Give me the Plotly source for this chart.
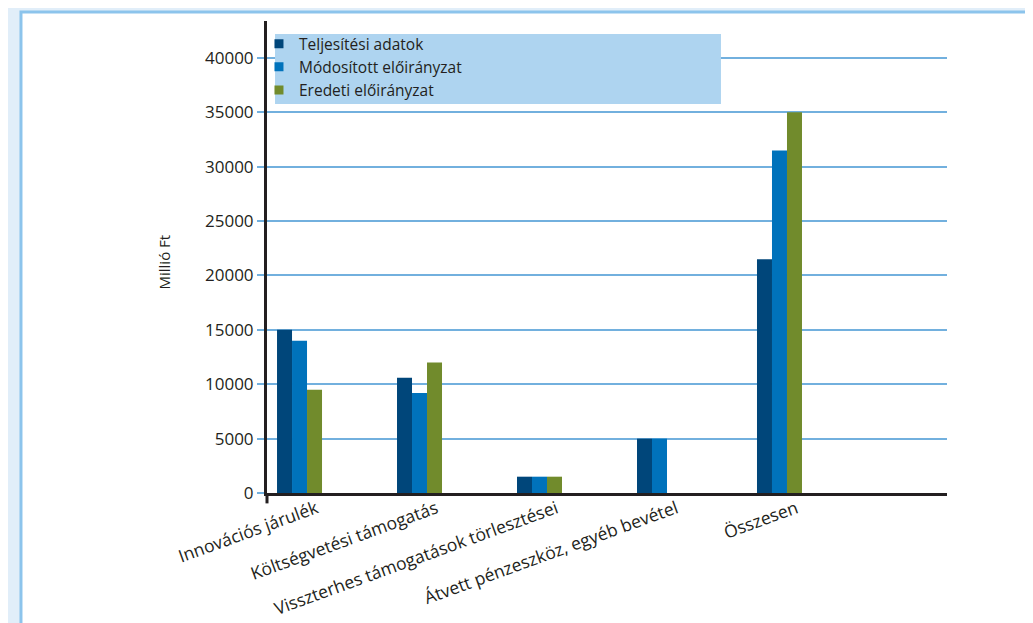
import plotly.graph_objects as go

categories = ["Innovációs járulék", "Költségvetési támogatás",
              "Visszterhes támogatások törlesztései",
              "Átvett pénzeszköz, egyéb bevétel", "Összesen"]
teljesitesi = [15000, 10600, 1500, 5000, 21500]
modositott = [14000, 9200, 1500, 5000, 31500]
eredeti = [9500, 12000, 1500, 0, 35000]
series_names = ["Teljesítési adatok", "Módosított előirányzat", "Eredeti előirányzat"]
colors = ["#00467a", "#0072bb", "#718b2c"]
y_ticks = [0, 5000, 10000, 15000, 20000, 25000, 30000, 35000, 40000]
y_ticktext = ["0", "5000", "10000", "15000", "20000", "25000", "30000", "35000", "40000"]

FONT = "Open Sans"
TXT = "#231f20"
GRID = "#72b0de"

fig = go.Figure()
bar_w = 0.125
offsets = [-0.3275, -0.2025, -0.0775]
for name, vals, col, off in zip(series_names, [teljesitesi, modositott, eredeti], colors, offsets):
    fig.add_trace(go.Bar(x=categories, y=vals, name=name, marker_color=col,
                         marker_line_width=0, width=bar_w, offset=off,
                         showlegend=False))
    fig.add_trace(go.Scatter(x=[None], y=[None], mode="markers", name=name,
                             marker=dict(symbol="square", size=9, color=col)))

fig.update_layout(
    width=1033, height=623,
    barmode="overlay",
    paper_bgcolor="#e1eef9",
    plot_bgcolor="rgba(0,0,0,0)",
    margin=dict(l=259, r=94, t=13, b=138),
    font=dict(family=FONT, color=TXT, size=16),
    showlegend=True,
    legend=dict(x=-0.0118, y=0.987, xanchor="left", yanchor="top",
                bgcolor="rgba(0,0,0,0)", font=dict(size=15.5, color=TXT),
                itemwidth=30, tracegroupgap=0),
    xaxis=dict(type="category", range=[-0.411, 5.256], showgrid=False,
               showline=True, linecolor=TXT, linewidth=3, ticks="",
               tickangle=-20, tickfont=dict(size=17.5, color=TXT),
               ticklabelstandoff=-4, automargin=False),
    yaxis=dict(range=[0, 43400], tickvals=y_ticks, ticktext=y_ticktext,
               showgrid=True, gridcolor=GRID, gridwidth=1.5, showline=True,
               linecolor=TXT, linewidth=3, ticks="outside", ticklen=7,
               tickcolor=GRID, tickwidth=1.5,
               tickfont=dict(size=17, color=TXT), zeroline=False,
               automargin=False),
    shapes=[
        dict(type="rect", xref="paper", yref="paper", x0=-0.3618, x1=1.1176,
             y0=-0.5, y1=1.019, fillcolor="white",
             line=dict(color="#8cc4ec", width=3), layer="below"),
        dict(type="rect", xref="paper", yref="paper", x0=0.0118, x1=0.6676,
             y0=0.824, y1=0.9725, fillcolor="#aed4f0", line=dict(width=0),
             layer="above"),
        dict(type="line", xref="paper", yref="paper", x0=0, x1=0,
             y0=0, y1=-0.022, line=dict(color=TXT, width=3)),
    ],
    annotations=[
        dict(text="Millió Ft", xref="paper", yref="paper", x=-0.151, y=0.489,
             xanchor="center", yanchor="middle", textangle=-90,
             showarrow=False, font=dict(size=15, color=TXT)),
    ],
)

fig.write_html("out.html")
